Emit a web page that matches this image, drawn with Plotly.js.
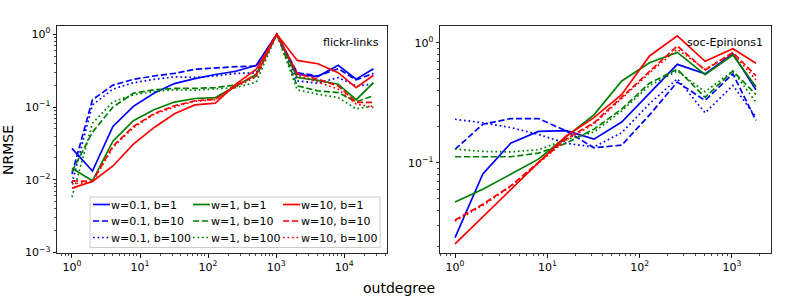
<!DOCTYPE html>
<html><head><meta charset="utf-8">
<script src="https://cdn.plot.ly/plotly-3.0.1.min.js"></script>
<style>html,body{margin:0;padding:0;background:#fff}</style>
</head><body><div id="chart" style="width:797px;height:299px"></div>
<script>
// ---- data: left panel (flickr-links) ----
const xLeft = [1, 2, 4, 8, 16, 32, 64, 128, 256, 512, 1024, 2048, 4096, 8192, 15000, 27000];
const left_w01_b1   = [0.027, 0.0132, 0.054, 0.102, 0.155, 0.21, 0.245, 0.28, 0.31, 0.374, 1.0, 0.282, 0.262, 0.374, 0.241, 0.336];
const left_w01_b10  = [0.012, 0.126, 0.2, 0.24, 0.267, 0.29, 0.33, 0.347, 0.358, 0.366, 1.0, 0.296, 0.267, 0.336, 0.236, 0.29];
const left_w01_b100 = [0.009, 0.107, 0.176, 0.216, 0.24, 0.26, 0.255, 0.267, 0.29, 0.296, 1.0, 0.228, 0.213, 0.254, 0.195, 0.206];
const left_w1_b1    = [0.0144, 0.0097, 0.034, 0.065, 0.092, 0.117, 0.131, 0.135, 0.195, 0.28, 1.0, 0.254, 0.233, 0.206, 0.126, 0.216];
const left_w1_b10   = [0.013, 0.045, 0.1, 0.155, 0.172, 0.18, 0.18, 0.185, 0.2, 0.267, 1.0, 0.195, 0.167, 0.158, 0.118, 0.143];
const left_w1_b100  = [0.0058, 0.06, 0.118, 0.147, 0.163, 0.172, 0.17, 0.176, 0.185, 0.22, 1.0, 0.172, 0.15, 0.135, 0.094, 0.104];
const left_w10_b1   = [0.0077, 0.0095, 0.0155, 0.031, 0.052, 0.081, 0.107, 0.113, 0.206, 0.33, 1.0, 0.437, 0.393, 0.296, 0.185, 0.273];
const left_w10_b10  = [0.0097, 0.0095, 0.029, 0.054, 0.081, 0.104, 0.122, 0.128, 0.195, 0.282, 1.0, 0.288, 0.241, 0.195, 0.116, 0.116];
const left_w10_b100 = [0.0088, 0.0093, 0.028, 0.052, 0.079, 0.1, 0.12, 0.126, 0.19, 0.26, 1.0, 0.273, 0.22, 0.176, 0.11, 0.099];

// ---- data: right panel (soc-Epinions1) ----
const xRight = [1, 2, 4, 8, 16, 32, 64, 128, 256, 512, 1024, 1820];
const right_w01_b1   = [0.0237, 0.0805, 0.145, 0.182, 0.185, 0.157, 0.218, 0.38, 0.66, 0.55, 0.81, 0.405];
const right_w01_b10  = [0.129, 0.209, 0.233, 0.233, 0.184, 0.133, 0.14, 0.25, 0.47, 0.33, 0.55, 0.225];
const right_w01_b100 = [0.23, 0.215, 0.196, 0.172, 0.145, 0.135, 0.178, 0.31, 0.5, 0.26, 0.44, 0.24];
const right_w1_b1    = [0.047, 0.06, 0.08, 0.107, 0.165, 0.25, 0.48, 0.68, 0.83, 0.54, 0.79, 0.43];
const right_w1_b10   = [0.112, 0.112, 0.112, 0.12, 0.145, 0.19, 0.28, 0.46, 0.6, 0.35, 0.58, 0.37];
const right_w1_b100  = [0.13, 0.124, 0.123, 0.128, 0.155, 0.18, 0.27, 0.44, 0.58, 0.39, 0.58, 0.32];
const right_w10_b1   = [0.021, 0.0355, 0.06, 0.1, 0.167, 0.237, 0.37, 0.775, 1.14, 0.7, 0.89, 0.673];
const right_w10_b10  = [0.0333, 0.045, 0.064, 0.1, 0.158, 0.215, 0.35, 0.58, 0.94, 0.59, 0.83, 0.53];
const right_w10_b100 = [0.0325, 0.044, 0.063, 0.098, 0.155, 0.21, 0.34, 0.56, 0.88, 0.6, 0.82, 0.49];

const seriesNames = ['w=0.1, b=1', 'w=0.1, b=10', 'w=0.1, b=100',
                     'w=1, b=1', 'w=1, b=10', 'w=1, b=100',
                     'w=10, b=1', 'w=10, b=10', 'w=10, b=100'];
const panelTitles = ['flickr-links', 'soc-Epinions1'];
const xTitle = 'outdegree';
const yTitle = 'NRMSE';

// ---- styles ----
const FONT = 'DejaVu Sans, Verdana, sans-serif';
const colors = ['#0000ff', '#008000', '#ff0000'];
const dashes = ['solid', '6.2px,2.7px', '1.7px,2.8px'];
const legendIds = ['legend', 'legend2', 'legend3'];
const LW = 1.7;

const leftData = [left_w01_b1, left_w01_b10, left_w01_b100, left_w1_b1, left_w1_b10, left_w1_b100, left_w10_b1, left_w10_b10, left_w10_b100];
const rightData = [right_w01_b1, right_w01_b10, right_w01_b100, right_w1_b1, right_w1_b10, right_w1_b100, right_w10_b1, right_w10_b10, right_w10_b100];

const traces = [];
leftData.forEach((ys, i) => {
  const w = Math.floor(i / 3), b = i % 3;
  traces.push({x: xLeft, y: ys, type: 'scatter', mode: 'lines', name: seriesNames[i],
    xaxis: 'x', yaxis: 'y', legend: legendIds[w],
    line: {color: colors[w], width: LW, dash: dashes[b]}, showlegend: true});
});
rightData.forEach((ys, i) => {
  const w = Math.floor(i / 3), b = i % 3;
  traces.push({x: xRight, y: ys, type: 'scatter', mode: 'lines', name: seriesNames[i],
    xaxis: 'x2', yaxis: 'y2', line: {color: colors[w], width: LW, dash: dashes[b]}, showlegend: false});
});

function decadeTicks(lo, hi) {
  const vals = [], text = [];
  for (let k = lo; k <= hi; k++) {
    vals.push(Math.pow(10, k));
    text.push('10<sup>' + (k < 0 ? '\u2212' + (-k) : k) + '</sup>');
  }
  return {vals, text};
}
function minorTicks(lo, hi) {
  const v = [];
  for (let k = lo; k <= hi; k++) for (let m = 2; m <= 9; m++) v.push(m * Math.pow(10, k));
  return v;
}
function axis(domain, anchor, range, dec, minorRange) {
  const t = decadeTicks(dec[0], dec[1]);
  return {
    domain: domain, anchor: anchor, type: 'log', range: range,
    tickmode: 'array', tickvals: t.vals, ticktext: t.text,
    ticks: 'outside', ticklen: 3.5, tickwidth: 0.9, tickcolor: '#000',
    showline: true, linecolor: '#262626', linewidth: 1, mirror: true,
    showgrid: false, zeroline: false,
    tickfont: {family: FONT, size: 11, color: '#000'},
    minor: {tickmode: 'array', tickvals: minorTicks(minorRange[0], minorRange[1]),
            ticks: 'outside', ticklen: 2, tickwidth: 0.7, tickcolor: '#000', showgrid: false}
  };
}
const W = 797, H = 299;
const px = v => v / W, py = v => 1 - v / H;
const LEG_TOP = 190;

function legendCfg(left) {
  return {x: px(left), y: py(LEG_TOP), xanchor: 'left', yanchor: 'top', bgcolor: 'rgba(0,0,0,0)',
          borderwidth: 0, font: {family: FONT, size: 11, color: '#000'}, tracegroupgap: 0};
}

const layout = {
  width: W, height: H, margin: {l: 0, r: 0, t: 0, b: 0},
  paper_bgcolor: '#fff', plot_bgcolor: '#fff',
  font: {family: FONT, size: 11, color: '#000'},
  xaxis: axis([px(57), px(387)], 'y', [-0.22, 4.63], [0, 4], [-1, 4]),
  yaxis: axis([py(253), py(26)], 'x', [-3.005, 0.113], [-3, 0], [-3, 0]),
  xaxis2: axis([px(440), px(770.7)], 'y2', [-0.163, 3.42], [0, 3], [-1, 3]),
  yaxis2: axis([py(253), py(26)], 'x2', [-1.753, 0.139], [-1, 0], [-2, 0]),
  showlegend: true,
  legend: legendCfg(88),
  legend2: legendCfg(188),
  legend3: legendCfg(278),
  shapes: [{type: 'rect', xref: 'paper', yref: 'paper', x0: px(90), x1: px(380), y0: py(247.5), y1: py(197),
            line: {color: '#cccccc', width: 1}, fillcolor: 'rgba(255,255,255,0.8)', layer: 'above'}],
  annotations: [
    {text: panelTitles[0], xref: 'paper', yref: 'paper', x: px(381), y: py(42), xanchor: 'right', yanchor: 'middle', showarrow: false, font: {family: FONT, size: 11}},
    {text: panelTitles[1], xref: 'paper', yref: 'paper', x: px(765), y: py(42), xanchor: 'right', yanchor: 'middle', showarrow: false, font: {family: FONT, size: 11}},
    {text: yTitle, xref: 'paper', yref: 'paper', x: px(8), y: py(150), xanchor: 'center', yanchor: 'middle', textangle: -90, showarrow: false, font: {family: FONT, size: 14}},
    {text: xTitle, xref: 'paper', yref: 'paper', x: px(398.5), y: py(288), xanchor: 'center', yanchor: 'middle', showarrow: false, font: {family: FONT, size: 14}}
  ]
};

// compact the legend entries (shorter line samples, tighter rows, like matplotlib)
function compactLegends() {
  document.querySelectorAll('#chart .infolayer g.traces').forEach(it => {
    it.querySelectorAll('path.js-line').forEach(p => p.setAttribute('d', 'M5,0h17'));
    it.querySelectorAll('text').forEach(t => {
      t.setAttribute('x', '23');
      t.querySelectorAll('tspan').forEach(s => { if (s.hasAttribute('x')) s.setAttribute('x', '23'); });
    });
  });
  document.querySelectorAll('#chart .infolayer > g').forEach(g => {
    const items = g.querySelectorAll('g.traces');
    if (!items.length) return;
    let y0 = null;
    items.forEach((it, i) => {
      if (it.dataset.origY === undefined) {
        const m = /translate\(\s*([-\d.e]+)[ ,]+([-\d.e]+)\s*\)/.exec(it.getAttribute('transform') || '');
        if (m) { it.dataset.origX = m[1]; it.dataset.origY = m[2]; }
      }
      if (it.dataset.origY !== undefined) {
        if (y0 === null) y0 = parseFloat(it.dataset.origY);
        it.setAttribute('transform', 'translate(' + it.dataset.origX + ',' + (y0 + i * 16.5) + ')');
      }
    });
  });
}

const gd = document.getElementById('chart');
Plotly.newPlot(gd, traces, layout, {staticPlot: true, displayModeBar: false}).then(() => {
  compactLegends();
  if (gd.on) gd.on('plotly_afterplot', compactLegends);
  [0, 30, 100, 300].forEach(t => setTimeout(compactLegends, t));
  requestAnimationFrame(compactLegends);
});
</script>
</body></html>
